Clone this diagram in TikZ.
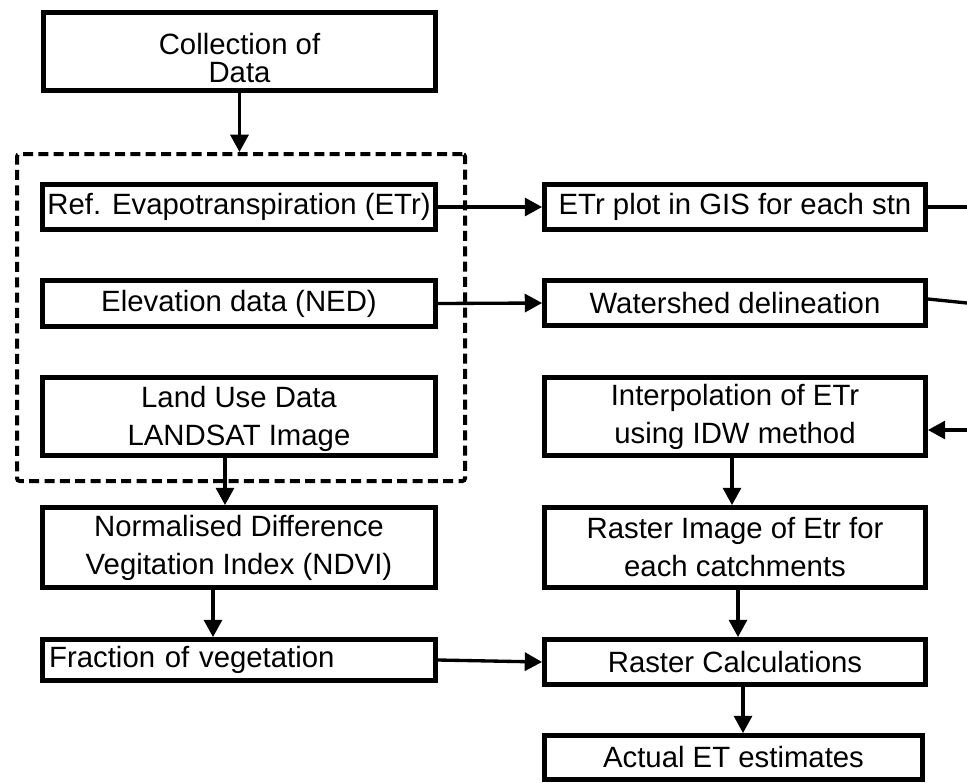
\documentclass[tikz,border=0pt]{standalone}
\usepackage{fontspec}
\setmainfont{Liberation Sans}
\usetikzlibrary{arrows.meta}

\tikzset{
  stepbox/.style={draw, line width=3.6pt, inner sep=0pt, align=center,
    font=\fontsize{22}{28.5}\selectfont},
  % size given in px of the 967x782 canvas
  bx/.style 2 args={minimum width=#1*0.75pt, minimum height=#2*0.75pt},
  flow/.style={line width=2.5pt, -{Triangle[length=13pt,width=13.5pt]}},
  plain/.style={line width=2.5pt},
  group/.style={draw, line width=3pt, dash pattern=on 7.5pt off 4pt,
    rounded corners=2pt, inner sep=0pt}
}

\begin{document}
\begin{tikzpicture}[x=0.75pt, y=-0.75pt]
\useasboundingbox (0,0) rectangle (967,782);

% dashed group around the three data sources
\node[group, bx={448}{327}] (grp) at (241,317.5) {};

% left column
\node[stepbox, bx={392}{78}, font=\fontsize{22}{21}\selectfont] (coll) at (239.5,51.5) {\rule{0pt}{26pt}Collection of\\Data};
\node[stepbox, bx={393}{45}] (ref)  at (239,207)   {Ref. Evapotranspiration (ETr)};
\node[stepbox, bx={393}{46}] (elev) at (239,303.5) {Elevation data (NED)};
\node[stepbox, bx={393}{78}] (land) at (239,416.5) {\rule{0pt}{19pt}Land Use Data\\LANDSAT Image};
\node[stepbox, bx={393}{80}] (ndvi) at (239,547.5) {Normalised Difference\\Vegitation Index (NDVI)};
\node[stepbox, minimum height=41*0.75pt, inner xsep=5pt, text width=393*0.75pt-10pt, align=left] (frac) at (239,660) {Fraction of vegetation};

% right column
\node[stepbox, bx={381}{45}] (etrp)   at (735,207)   {ETr plot in GIS for each stn};
\node[stepbox, bx={381}{45}] (wat)    at (735,303)   {Watershed delineation};
\node[stepbox, bx={381}{78}] (interp) at (735,416.5) {Interpolation of ETr\\using IDW method};
\node[stepbox, bx={381}{80}] (rimg)   at (735,547.5) {Raster Image of Etr for\\each catchments};
\node[stepbox, bx={381}{45}] (rcalc)  at (735,662)   {Raster Calculations};
\node[stepbox, bx={378}{44}] (act)    at (733.5,757.5) {Actual ET estimates};

% free ends on the right margin
\coordinate (e1) at (967,207);
\coordinate (e2) at (967,303);
\coordinate (e3) at (967,430);

% connectors
\draw[flow] (coll.south) -- (coll.south |- grp.north);
\draw[flow] (ref.east) -- (etrp.west);
\draw[flow] (elev.east) -- (wat.west);
\draw[flow] ([xshift=-10.5pt]land.south) -- ([xshift=-10.5pt]ndvi.north);
\draw[flow] ([xshift=-19.5pt]ndvi.south) -- ([xshift=-19.5pt]frac.north);
\draw[flow] (frac.east) -- (rcalc.west);
\draw[plain] (etrp.east) -- (e1);
\draw[plain] ([yshift=3pt]wat.east) -- (e2);
\draw[flow] (e3) -- (interp.east |- e3);
\draw[flow] ([xshift=-2.25pt]interp.south) -- ([xshift=-2.25pt]rimg.north);
\draw[flow] ([xshift=2.25pt]rimg.south) -- ([xshift=2.25pt]rcalc.north);
\draw[flow] ([xshift=6pt]rcalc.south) -- ([xshift=6pt]rcalc.south |- act.north);
\end{tikzpicture}
\end{document}
